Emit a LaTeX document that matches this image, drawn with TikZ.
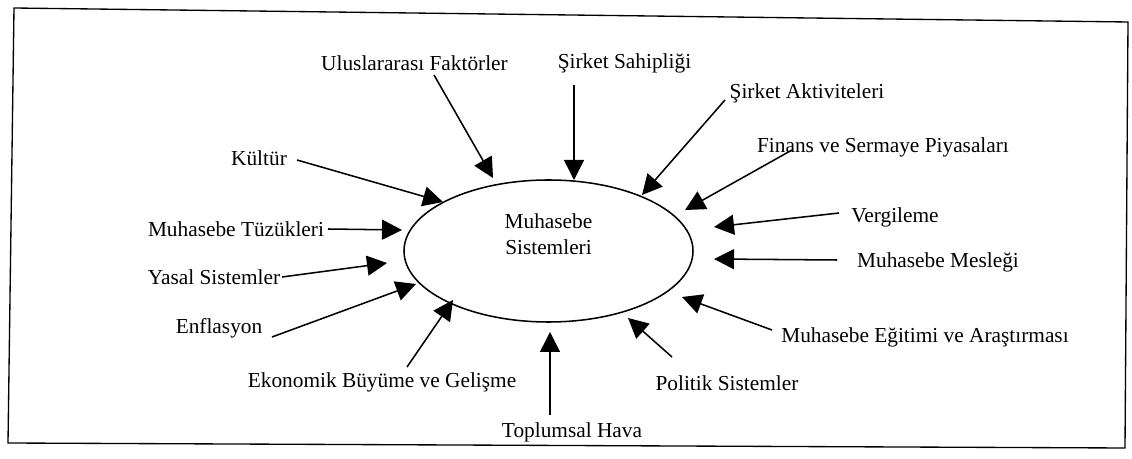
\documentclass[tikz,border=0pt]{standalone}
\usepackage{fontspec}
\setmainfont{Liberation Serif}
\usetikzlibrary{arrows.meta}
\begin{document}
\begin{tikzpicture}[x=0.75pt,y=-0.75pt,
  lbl/.style={inner sep=1pt,font=\fontsize{16}{19}\selectfont},
  arr/.style={line width=1.15pt,-{Triangle[length=15pt,width=15pt]}},
  frame/.style={line width=1pt}]
\useasboundingbox (0,0) rectangle (1132,459);
% frame
\draw[frame] (14,8) -- (1128,22) -- (1125,448) -- (8,443) -- cycle;
% central ellipse
\draw[line width=1.15pt] (548.5,251) ellipse [x radius=144.5, y radius=71];
\node[lbl,align=center,font=\fontsize{16}{19.5}\selectfont] (ms) at (548.5,234) {Muhasebe\\Sistemleri};
% labels
\node[lbl] (ul) at (414.5,63) {Uluslararası Faktörler};
\node[lbl] (ss) at (624.5,63) {Şirket Sahipliği};
\node[lbl] (sa) at (807,93) {Şirket Aktiviteleri};
\node[lbl] (fi) at (883,147) {Finans ve Sermaye Piyasaları};
\node[lbl] (ku) at (259,158) {Kültür};
\node[lbl] (ve) at (895,217) {Vergileme};
\node[lbl] (mt) at (236,229) {Muhasebe Tüzükleri};
\node[lbl] (mm) at (938,262) {Muhasebe Mesleği};
\node[lbl] (ya) at (214,277) {Yasal Sistemler};
\node[lbl] (en) at (219,328) {Enflasyon};
\node[lbl] (eg) at (925,337) {Muhasebe Eğitimi ve Araştırması};
\node[lbl] (ek) at (382,382) {Ekonomik Büyüme ve Gelişme};
\node[lbl] (po) at (727,383) {Politik Sistemler};
\node[lbl] (to) at (572,432) {Toplumsal Hava};
% arrow start points
\coordinate (sul) at (434,75);
\coordinate (sss) at (574,85);
\coordinate (ssa) at (725,100);
\coordinate (sfi) at (792,150);
\coordinate (sku) at (297,160);
\coordinate (sve) at (839,213);
\coordinate (smt) at (328,229);
\coordinate (smm) at (837,260);
\coordinate (sya) at (282,277);
\coordinate (sen) at (272,337);
\coordinate (seg) at (772,330);
\coordinate (sek) at (407,367);
\coordinate (spo) at (672,357);
\coordinate (sto) at (550,415);
% arrow tips
\coordinate (tul) at (493,178);
\coordinate (tss) at (574,180);
\coordinate (tsa) at (642,195);
\coordinate (tfi) at (685,210);
\coordinate (tku) at (443,202);
\coordinate (tve) at (714,227);
\coordinate (tmt) at (402,230);
\coordinate (tmm) at (714,259);
\coordinate (tya) at (387,263);
\coordinate (ten) at (416,284);
\coordinate (teg) at (682,297);
\coordinate (tek) at (453,300);
\coordinate (tpo) at (628,318);
\coordinate (tto) at (550,332);
% arrows
\foreach \k in {ul,ss,sa,fi,ku,ve,mt,mm,ya,en,eg,ek,po,to}
  \draw[arr] (s\k) -- (t\k);
\end{tikzpicture}
\end{document}
